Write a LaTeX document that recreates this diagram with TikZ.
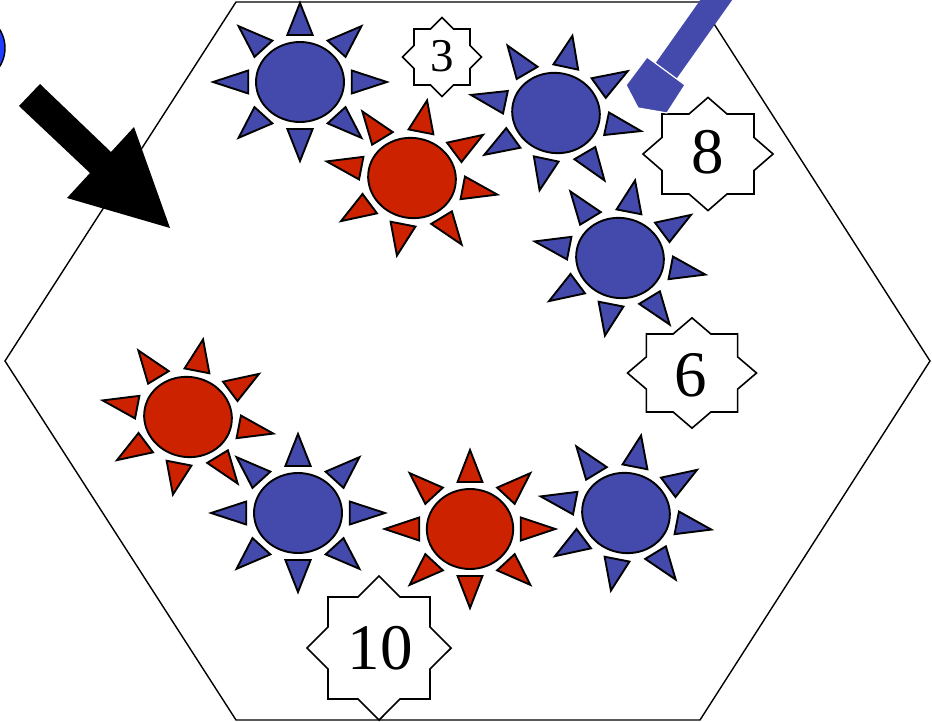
\documentclass[tikz,border=0pt]{standalone}
\usepackage{fontspec}
\setmainfont{Liberation Serif}
\usepackage{tikz}
\definecolor{sunBlue}{HTML}{444AAB}
\definecolor{sunRed}{HTML}{CC2200}
\definecolor{dotBlue}{HTML}{1E3EFF}
\tikzset{
  sun/.pic={
    \filldraw[fill=#1, draw=black, line width=1.9pt] (0,0) circle (40);
    \foreach \a in {0,45,...,315}
      \filldraw[fill=#1, draw=black, line width=1.9pt]
        (\a-13.75:48.4) -- (\a:79) -- (\a+13.75:48.4) -- cycle;
  },
  octagram/.pic={
    \filldraw[fill=white, draw=black, line width=1.6pt]
      (0:1.414) \foreach \a in {0,45,...,315} {
        -- (\a+22.5:1.082) -- (\a+45:1.414)} -- cycle;
  },
  hex border/.style={draw=black, line width=1.4pt},
  digit/.style={inner sep=0pt, font=\fontsize{65}{65}\selectfont},
  small digit/.style={inner sep=0pt, font=\fontsize{47}{47}\selectfont}
}

\begin{document}
\begin{tikzpicture}[x=1pt, y=-1pt]
  \useasboundingbox (0,0) rectangle (932,722);
  \draw[hex border] (236,2) -- (700,2) -- (930,361) -- (700,720)
    -- (236,720) -- (5,361) -- cycle;
  \filldraw[fill=dotBlue, draw=black, line width=1.4pt] (-30,48) circle (35);
  \fill[black] (19,106) -- (40,84) -- (111,152) -- (134,127) -- (170,228)
    -- (67,198) -- (90,173) -- cycle;

  \pic[xscale=1.1] at (300,82) {sun=sunBlue};
  \pic[rotate=-12, xscale=1.1] at (556,113) {sun=sunBlue};
  \pic[rotate=-11, xscale=1.1] at (412,178) {sun=sunRed};
  \pic[rotate=-11, xscale=1.1] at (620,258) {sun=sunBlue};
  \pic[rotate=-11, xscale=1.1] at (188,417) {sun=sunRed};
  \pic[xscale=1.1] at (298,513) {sun=sunBlue};
  \pic[xscale=1.08] at (470,529) {sun=sunRed};
  \pic[rotate=-11, xscale=1.1] at (626,513) {sun=sunBlue};

  \pic[scale=28] at (442,57) {octagram};
  \pic[scale=40, xscale=1.15] at (708,154) {octagram};
  \pic[scale=39, xscale=1.17] at (692,373) {octagram};
  \pic[scale=51] at (379,648) {octagram};
  \node[small digit] (n3) at (442,56) {3};
  \node[digit] (n8) at (708,152) {8};
  \node[digit] (n6) at (691,375) {6};
  \node[digit] (n10) at (380,648) {10};

  \draw[sunBlue, line width=26pt] (741,-35) -- (666,71);
  \filldraw[fill=sunBlue, draw=white, line width=1.2pt] (647,57) -- (685,85)
    -- (667,113) -- (638,108) -- (626,85) -- cycle;
\end{tikzpicture}
\end{document}
